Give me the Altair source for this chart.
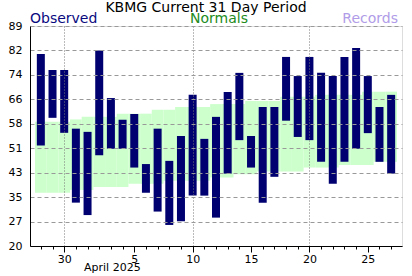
import altair as alt
import pandas as pd

# ---- data ----
days = [28, 29, 30, 31, 32, 33, 34, 35, 36, 37, 38, 39, 40, 41, 42, 43,
        44, 45, 46, 47, 48, 49, 50, 51, 52, 53, 54, 55, 56, 57, 58]
obs_high = [80.2, 75.2, 75.2, 56.8, 55.8, 81.3, 66.4, 59.6, 61.4, 45.7, 56.8,
            46.7, 54.5, 67.4, 53.6, 60.5, 68.3, 74.3, 54.5, 63.6, 63.6, 79.3,
            73.3, 79.3, 74.3, 73.3, 79.3, 82.1, 73.3, 63.6, 67.4]
obs_low = [51.5, 60.2, 55.5, 33.6, 29.7, 48.5, 50.5, 50.5, 44.6, 36.7, 30.8,
           26.6, 27.8, 35.8, 35.8, 28.9, 42.7, 53.2, 44.6, 33.6, 41.7, 59.3,
           54.2, 53.2, 46.4, 39.5, 46.4, 50.5, 55.4, 46.4, 42.7]
norm_high = [59.0, 59.0, 59.0, 59.7, 60.5, 60.5, 60.5, 61.5, 61.5, 61.5, 62.7,
             62.7, 63.6, 63.6, 63.6, 64.5, 64.5, 64.5, 65.5, 65.5, 65.5, 66.8,
             66.8, 66.8, 67.4, 67.4, 67.4, 67.4, 68.4, 68.4, 68.4]
norm_low = [36.7, 36.7, 36.7, 37.6, 37.6, 38.5, 38.5, 38.5, 39.5, 39.5, 39.5,
            40.5, 40.5, 40.5, 40.5, 41.5, 41.5, 42.5, 42.5, 43.4, 43.4, 43.4,
            43.4, 44.6, 44.6, 44.6, 45.4, 45.4, 45.4, 46.4, 46.4]

x_tick_days = [30, 36, 41, 46, 51, 56]
x_tick_text = ["30", "5", "10", "15", "20", "25"]
x_grid_days = [30, 41, 51]
month_label = "April 2025"

y_min, y_max = 20, 89
y_tick_text = ["20", "27", "35", "43", "51", "58", "66", "74", "82", "89"]

title_text = "KBMG Current 31 Day Period"
legend_obs = "Observed"
legend_norm = "Normals"
legend_rec = "Records"

FONT = "DejaVu Sans"
BAR = "#000070"
GREEN = "#ccffcc"
GRID = "#999999"

df = pd.DataFrame({"day": days, "hi": obs_high, "lo": obs_low,
                   "nhi": norm_high, "nlo": norm_low})

y_vals = [y_min + i * (y_max - y_min) / 9 for i in range(10)]
y_label_expr = "[" + ",".join("'%s'" % t for t in y_tick_text) + "][round((datum.value-%d)*9/%d)]" % (y_min, y_max - y_min)

x_idx = "indexof([" + ",".join(str(d) for d in x_tick_days) + "], datum.value)"
x_label_expr = "%s >= 0 ? [%s][%s] : ''" % (
    x_idx, ",".join("'%s'" % t for t in x_tick_text), x_idx)
major_test = "%s >= 0" % x_idx
grid_test = "indexof([" + ",".join(str(d) for d in x_grid_days) + "], datum.value) >= 0"

x_scale = alt.Scale(domain=[days[0] - 0.5, days[-1] + 0.5], nice=False, zero=False)
y_scale = alt.Scale(domain=[y_min, y_max], nice=False, zero=False)

x_axis = alt.Axis(
    values=days, title=None, labelExpr=x_label_expr,
    labelFont=FONT, labelFontSize=11, labelColor="black",
    labelPadding=1, labelAngle=0,
    tickSize={"condition": {"test": major_test, "value": 6}, "value": 3},
    tickColor="black", tickWidth=1,
    domainColor="black", domainWidth=1,
    grid=True, gridColor="#777777", gridDash=[1, 2], gridWidth=1,
    gridOpacity={"condition": {"test": grid_test, "value": 1}, "value": 0},
    zindex=1,
)
y_axis = alt.Axis(
    values=y_vals, title=None, labelExpr=y_label_expr,
    labelFont=FONT, labelFontSize=11, labelColor="black",
    ticks=False, tickSize=0, labelPadding=8,
    domainColor="black", domainWidth=1,
    grid=True, gridColor=GRID, gridDash=[4, 3], gridWidth=1,
    zindex=1,
)

base = alt.Chart(df)

normals = base.mark_rect(color=GREEN).transform_calculate(
    d0="datum.day - 0.5", d1="datum.day + 0.5"
).encode(
    x=alt.X("d0:Q", scale=x_scale, axis=x_axis),
    x2="d1:Q",
    y=alt.Y("nlo:Q", scale=y_scale, axis=y_axis),
    y2="nhi:Q",
)

bars = base.mark_bar(color=BAR, size=8).encode(
    x=alt.X("day:Q", scale=x_scale, axis=x_axis),
    y=alt.Y("lo:Q", scale=y_scale, axis=y_axis),
    y2="hi:Q",
)

one = pd.DataFrame({"k": [0]})


def label(text, x, y, color, align="left", size=14):
    return alt.Chart(one).mark_text(
        text=text, font=FONT, fontSize=size, color=color,
        align=align, baseline="alphabetic"
    ).encode(x=alt.value(x), y=alt.value(y))


title = label(title_text, 176, -14, "black", "center", 14)
obs = label(legend_obs, 0, -3, "#0a0a80", "left", 14)
norm = label(legend_norm, 189, -3, "#228b22", "center", 14)
rec = label(legend_rec, 368, -3, "#b09ce8", "right", 14)
month = label(month_label, 54, 245, "black", "left", 11)

chart = alt.layer(normals, bars, title, obs, norm, rec, month).properties(
    width=372, height=220,
    autosize=alt.AutoSizeParams(type="none"),
    padding={"left": 30, "top": 26, "right": 10, "bottom": 30},
).configure_view(stroke="black", strokeWidth=1).configure(font=FONT, background="white")

chart.save("out.html", embed_options={"renderer": "svg", "actions": False})
